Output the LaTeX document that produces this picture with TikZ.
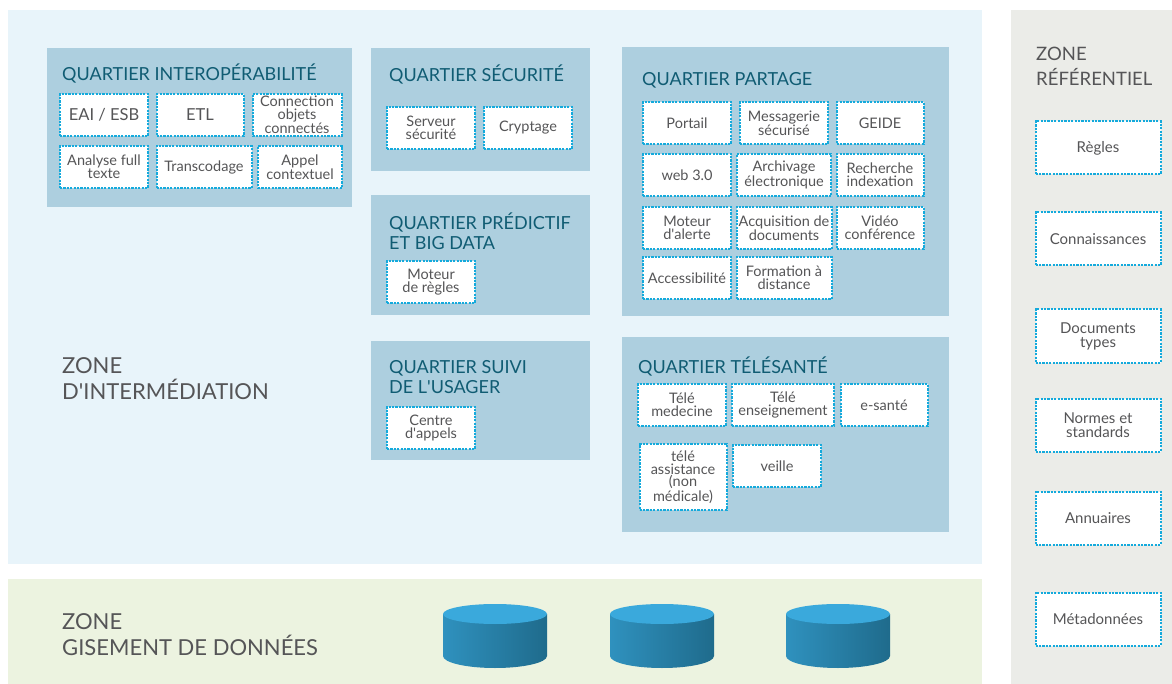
\documentclass[tikz,border=0pt]{standalone}
\usepackage{fontspec}
\setmainfont{Lato}
\definecolor{interbg}{RGB}{232,244,250}
\definecolor{greenbg}{RGB}{236,243,224}
\definecolor{greybg}{RGB}{235,236,232}
\definecolor{panel}{RGB}{173,207,223}
\definecolor{titleblue}{RGB}{16,92,115}
\definecolor{txtgray}{RGB}{85,85,87}
\definecolor{dotblue}{RGB}{20,170,220}
\definecolor{cylleft}{RGB}{47,145,190}
\definecolor{cylmid}{RGB}{58,169,220}
\definecolor{cylright}{RGB}{31,107,140}
\begin{document}
\begin{tikzpicture}
  [x=1pt,y=-1pt,
   zonetext/.style={anchor=west,align=left,inner sep=0,text=txtgray,font=\fontsize{22}{26}\selectfont},
   title/.style={anchor=west,align=left,inner sep=0,text=titleblue,font=\fontsize{18}{20}\selectfont},
   item/.style={draw=dotblue,line width=2pt,dash pattern=on 2.2pt off 1.2pt,fill=white,align=center,
     inner sep=1pt,text=txtgray,font=\fontsize{14.5}{12.8}\selectfont,minimum height=42}]

  \useasboundingbox (0,0) rectangle (1172,684);

  % zones
  \fill[interbg] (8,10) rectangle (982,564);
  \fill[greenbg] (8,579) rectangle (982,684);
  \fill[greybg] (1011,10) rectangle (1172,684);

  % quartiers
  \foreach \x/\y/\xx/\yy in {47/48/352/207, 371/48/590/171, 371/195/590/315,
                             371/341/590/460, 622/47/949/316, 622/337/949/532}
    \fill[panel] (\x,\y) rectangle (\xx,\yy);

  \node[zonetext] (zInter) at (62,379) {ZONE\\D\textquotesingle INTERMÉDIATION};
  \node[zonetext] (zGisement) at (62,635) {ZONE\\GISEMENT DE DONNÉES};
  \node[zonetext,font=\fontsize{18.5}{25}\selectfont] (zRef) at (1036,66) {ZONE\\RÉFÉRENTIEL};

  \node[title] (tInterop) at (62,74) {QUARTIER INTEROPÉRABILITÉ};
  \node[title] (tSecu) at (389,75) {QUARTIER SÉCURITÉ};
  \node[title] (tPredic) at (389,231) {QUARTIER PRÉDICTIF\\ET BIG DATA};
  \node[title] (tSuivi) at (389,377) {QUARTIER SUIVI\\DE L\textquotesingle USAGER};
  \node[title] (tPartage) at (642,80) {QUARTIER PARTAGE};
  \node[title] (tTele) at (638,366) {QUARTIER TÉLÉSANTÉ};

  % services
  \node[item,minimum width=88,font=\fontsize{16.5}{14}\selectfont] (eai) at (104,115) {EAI / ESB};
  \node[item,minimum width=87,font=\fontsize{16.5}{14}\selectfont] (etl) at (200,115) {ETL};
  \foreach \n/\x/\y/\w/\t in {
      objets/297/115/89/{Connection\\objets\\connectés},
      fulltext/104/167/88/{Analyse full\\texte},
      transco/204/167/95/{Transcodage},
      appel/300/167/84/{Appel\\contextuel},
      serveur/431/128/88/{Serveur\\sécurité},
      crypt/528/128/88/{Cryptage},
      regmoteur/431/282/88/{Moteur\\de règles},
      appels/431/428/88/{Centre\\d\textquotesingle appels},
      portail/687/123/88/{Portail},
      messagerie/784/123/88/{Messagerie\\sécurisé},
      geide/880/123/87/{GEIDE},
      web/687/175/88/{web 3.0},
      archivage/784/175/94/{Archivage\\électronique},
      recherche/880/175/87/{Recherche\\indexation},
      alerte/687/228/88/{Moteur\\d\textquotesingle alerte},
      acquisition/784/228/95/{Acquisition de\\documents},
      video/880/228/87/{Vidéo\\conférence},
      access/687/278/88/{Accessibilité},
      formation/784/278/95/{Formation à\\distance},
      telemed/682/405/88/{Télé\\medecine},
      teleens/783/405/102/{Télé\\enseignement},
      esante/884/405/87/{e-santé},
      veille/777/466/88/{veille}}
    \node[item,minimum width=\w] (\n) at (\x,\y) {\t};
  \node[item,minimum width=87,minimum height=66] (assist) at (683,477) {télé\\assistance\\(non\\médicale)};

  % referentiel
  \foreach \n/\y/\t in {regles/148/{Règles}, connaiss/239/{Connaissances},
      doctypes/336/{Documents\\types}, normes/425/{Normes et\\standards},
      annuaires/518/{Annuaires}, meta/619/{Métadonnées}}
    \node[item,minimum width=125,minimum height=53,font=\fontsize{15}{14}\selectfont] (\n) at (1098,\y) {\t};

  % bases de donnees
  \foreach \n/\x in {db1/495, db2/662, db3/838}{
    \coordinate (\n) at (\x,614);
    \shade[left color=cylleft,middle color=cylmid,right color=cylright]
      ([xshift=-52pt]\n) -- ++(0,42) arc[start angle=180,end angle=0,x radius=52,y radius=12]
      -- ++(0,-42) -- cycle;
    \fill[cylmid] (\n) ellipse [x radius=52,y radius=10];
  }

\end{tikzpicture}
\end{document}
